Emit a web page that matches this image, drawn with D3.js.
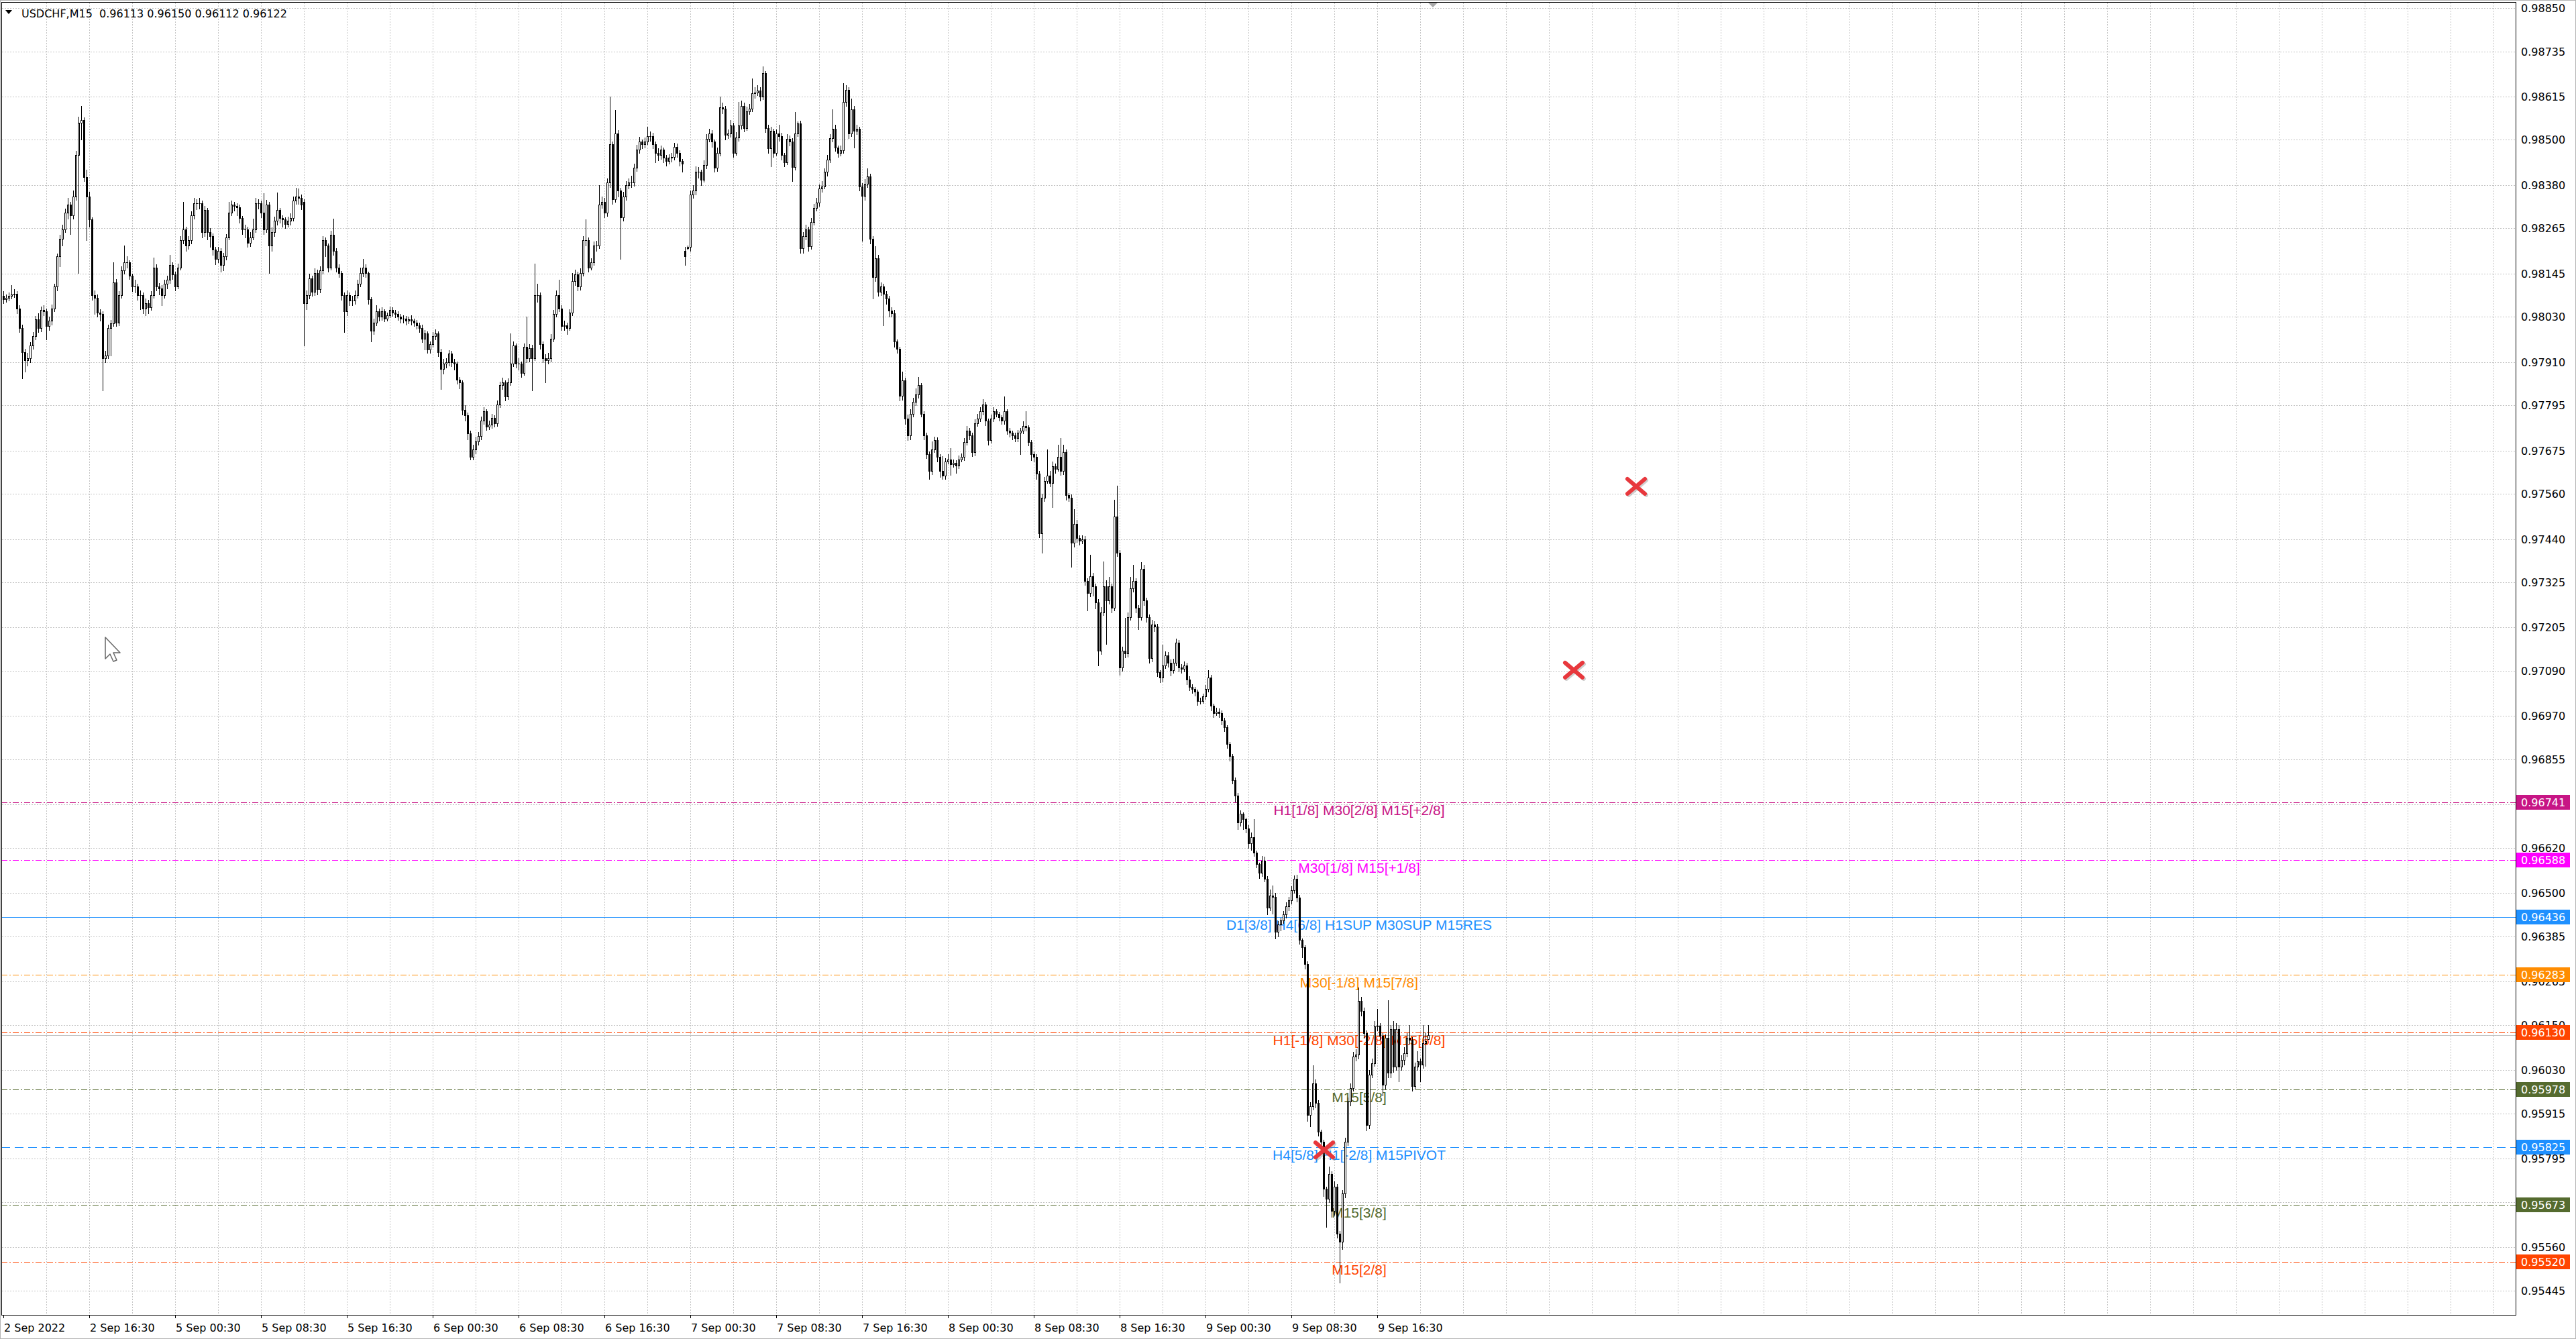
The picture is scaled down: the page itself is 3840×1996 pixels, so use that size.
<!DOCTYPE html>
<html><head><meta charset="utf-8">
<script src="https://cdn.jsdelivr.net/npm/d3@7"></script>
<style>html,body{margin:0;padding:0;background:#fff;overflow:hidden}svg{display:block}</style>
</head><body>
<svg id="chart" width="3840" height="1996"></svg>
<script>
// ---------------- DATA ----------------
const symbolTitle = "USDCHF,M15";
const lastQuote = ["0.96113", "0.96150", "0.96112", "0.96122"];

const opens = [
.98085,.98077,.98081,.98085,.98090,.98092,.98052,.98001,.97936,.97914,.97921,.97954,.97979,.98023,.98001,.98048,
.98045,.98005,.98019,.98052,.98110,.98190,.98237,.98263,.98306,.98328,.98299,.98350,.98459,.98546,.98553,.98401,
.98350,.98288,.98088,.98081,.98041,.98037,.97921,.97928,.98001,.98012,.98121,.98015,.98088,.98154,.98175,.98175,
.98139,.98110,.98110,.98088,.98088,.98052,.98066,.98055,.98088,.98161,.98110,.98106,.98088,.98117,.98128,.98168,
.98143,.98110,.98161,.98234,.98263,.98219,.98234,.98299,.98332,.98332,.98332,.98255,.98314,.98255,.98245,.98208,
.98183,.98205,.98168,.98190,.98241,.98306,.98328,.98325,.98321,.98292,.98263,.98263,.98226,.98241,.98263,.98332,
.98332,.98306,.98263,.98328,.98219,.98255,.98285,.98314,.98292,.98288,.98277,.98285,.98292,.98339,.98350,.98346,
.98335,.98066,.98088,.98132,.98096,.98146,.98103,.98154,.98234,.98219,.98161,.98248,.98205,.98161,.98146,.98088,
.98045,.98088,.98074,.98074,.98088,.98117,.98146,.98161,.98146,.98077,.97994,.98015,.98045,.98030,.98045,.98026,
.98034,.98048,.98041,.98037,.98030,.98026,.98026,.98019,.98023,.98019,.98015,.98008,.98001,.97972,.97986,.97943,
.97957,.97979,.97986,.97936,.97892,.97906,.97910,.97932,.97910,.97906,.97863,.97856,.97783,.97768,.97721,.97659,
.97677,.97699,.97714,.97754,.97779,.97739,.97743,.97761,.97747,.97797,.97848,.97856,.97819,.97856,.97906,.97954,
.97906,.97906,.97881,.97950,.97921,.97947,.97921,.98088,.98088,.97957,.97921,.97914,.97921,.97972,.98037,.98088,
.98052,.98005,.98008,.98001,.98041,.98125,.98143,.98110,.98146,.98234,.98234,.98161,.98175,.98219,.98219,.98328,
.98335,.98306,.98386,.98488,.98343,.98517,.98365,.98295,.98350,.98379,.98386,.98386,.98426,.98474,.98495,.98488,
.98495,.98510,.98510,.98488,.98466,.98459,.98474,.98452,.98444,.98452,.98455,.98481,.98466,.98444,.98205,.98213,
.98215,.98354,.98365,.98415,.98415,.98394,.98434,.98503,.98517,.98495,.98426,.98466,.98586,.98583,.98513,.98517,
.98539,.98466,.98506,.98539,.98590,.98532,.98575,.98583,.98623,.98626,.98630,.98615,.98677,.98532,.98477,.98524,
.98466,.98517,.98510,.98459,.98441,.98503,.98495,.98428,.98517,.98543,.98212,.98244,.98263,.98218,.98282,.98320,
.98333,.98371,.98377,.98415,.98447,.98504,.98530,.98479,.98466,.98473,.98600,.98632,.98517,.98581,.98524,.98530,
.98377,.98352,.98384,.98403,.98237,.98136,.98186,.98097,.98110,.98091,.98078,.98047,.98040,.97964,.97945,.97821,
.97862,.97760,.97716,.97773,.97805,.97824,.97849,.97773,.97716,.97665,.97620,.97678,.97703,.97658,.97620,.97608,
.97646,.97652,.97639,.97643,.97636,.97652,.97658,.97697,.97728,.97716,.97671,.97748,.97760,.97779,.97798,.97754,
.97703,.97760,.97779,.97773,.97764,.97754,.97779,.97728,.97722,.97716,.97709,.97722,.97728,.97741,.97737,.97697,
.97665,.97658,.97614,.97455,.97550,.97595,.97608,.97589,.97633,.97627,.97658,.97620,.97671,.97557,.97550,.97430,
.97480,.97442,.97436,.97440,.97328,.97296,.97341,.97315,.97271,.97143,.97245,.97315,.97277,.97315,.97258,.97500,
.97404,.97099,.97143,.97137,.97232,.97309,.97328,.97258,.97232,.97360,.97277,.97232,.97124,.97213,.97207,.97086,
.97073,.97105,.97131,.97112,.97092,.97112,.97165,.97099,.97096,.97105,.97067,.97048,.97042,.97035,.97010,.97010,
.97022,.97042,.97073,.96997,.96978,.96982,.96978,.96959,.96940,.96895,.96864,.96800,.96758,.96687,.96711,.96696,
.96672,.96633,.96649,.96607,.96577,.96553,.96586,.96538,.96461,.96494,.96490,.96398,.96417,.96428,.96443,.96464,
.96480,.96508,.96538,.96488,.96375,.96357,.96312,.95910,.95934,.95995,.95943,.95866,.95839,.95714,.95688,.95754,
.95656,.95720,.95595,.95575,.95702,.95839,.95946,.95982,.96066,.96071,.96214,.96187,.96128,.95884,.96018,.96048,
.96146,.96148,.96121,.95991,.96116,.96023,.96139,.96039,.96139,.96039,.96057,.96075,.96116,.96111,.95987,.96039,
.96053,.96045,.96102,.96113];

const highs = [
.98098,.98090,.98095,.98114,.98104,.98098,.98060,.98010,.97945,.97935,.97962,.97990,.98032,.98040,.98058,.98060,
.98052,.98030,.98062,.98118,.98198,.98248,.98275,.98318,.98345,.98335,.98365,.98470,.98561,.98590,.98560,.98420,
.98362,.98295,.98100,.98090,.98050,.98045,.97940,.98010,.98022,.98175,.98130,.98098,.98165,.98220,.98190,.98180,
.98145,.98128,.98118,.98100,.98095,.98078,.98075,.98098,.98187,.98170,.98120,.98115,.98128,.98140,.98194,.98175,
.98150,.98172,.98245,.98335,.98270,.98245,.98310,.98345,.98342,.98345,.98338,.98325,.98320,.98265,.98252,.98215,
.98215,.98212,.98200,.98250,.98335,.98338,.98335,.98332,.98328,.98298,.98275,.98270,.98255,.98290,.98345,.98342,
.98338,.98359,.98340,.98335,.98268,.98296,.98360,.98320,.98300,.98295,.98296,.98305,.98350,.98372,.98370,.98355,
.98342,.98100,.98145,.98140,.98158,.98155,.98165,.98245,.98240,.98225,.98258,.98290,.98212,.98170,.98152,.98095,
.98100,.98095,.98085,.98100,.98128,.98160,.98183,.98170,.98150,.98082,.98025,.98060,.98052,.98055,.98050,.98042,
.98058,.98055,.98048,.98045,.98038,.98035,.98032,.98030,.98035,.98026,.98022,.98015,.98010,.97995,.97992,.97965,
.97990,.97996,.97992,.97945,.97918,.97920,.97942,.97940,.97918,.97912,.97870,.97862,.97795,.97775,.97728,.97690,
.97712,.97725,.97765,.97790,.97785,.97755,.97772,.97768,.97808,.97858,.97868,.97862,.97866,.97986,.97965,.97960,
.97920,.97912,.97960,.98030,.97958,.97955,.98172,.98117,.98095,.97965,.97930,.97935,.97985,.98048,.98100,.98128,
.98060,.98020,.98015,.98050,.98146,.98155,.98150,.98158,.98245,.98288,.98240,.98185,.98230,.98232,.98379,.98350,
.98345,.98398,.98615,.98495,.98579,.98525,.98372,.98362,.98390,.98398,.98405,.98437,.98486,.98508,.98500,.98506,
.98535,.98522,.98518,.98495,.98478,.98485,.98480,.98460,.98462,.98466,.98492,.98490,.98472,.98450,.98215,.98220,
.98365,.98380,.98430,.98428,.98420,.98445,.98515,.98530,.98525,.98500,.98480,.98615,.98598,.98590,.98528,.98552,
.98545,.98520,.98601,.98605,.98598,.98588,.98595,.98663,.98640,.98645,.98640,.98695,.98682,.98540,.98535,.98530,
.98528,.98540,.98518,.98465,.98515,.98512,.98505,.98574,.98549,.98550,.98255,.98275,.98270,.98292,.98330,.98345,
.98382,.98390,.98425,.98460,.98515,.98581,.98540,.98485,.98485,.98651,.98645,.98640,.98610,.98590,.98540,.98535,
.98385,.98395,.98425,.98410,.98245,.98218,.98195,.98122,.98118,.98098,.98085,.98055,.98048,.97970,.97950,.97885,
.97868,.97770,.97785,.97815,.97840,.97870,.97855,.97780,.97722,.97672,.97700,.97712,.97710,.97665,.97660,.97655,
.97665,.97682,.97652,.97650,.97662,.97668,.97708,.97740,.97735,.97722,.97758,.97772,.97790,.97812,.97805,.97760,
.97770,.97790,.97785,.97778,.97768,.97818,.97785,.97735,.97728,.97722,.97730,.97735,.97752,.97779,.97742,.97703,
.97672,.97665,.97620,.97560,.97605,.97678,.97620,.97645,.97640,.97690,.97709,.97690,.97678,.97562,.97558,.97520,
.97490,.97450,.97450,.97448,.97335,.97398,.97350,.97322,.97280,.97260,.97380,.97330,.97340,.97322,.97544,.97582,
.97410,.97155,.97230,.97245,.97340,.97372,.97335,.97265,.97378,.97372,.97285,.97240,.97225,.97222,.97215,.97092,
.97160,.97142,.97140,.97120,.97122,.97175,.97172,.97108,.97115,.97112,.97075,.97055,.97048,.97040,.97018,.97030,
.97052,.97092,.97080,.97003,.96992,.96990,.96985,.96965,.96945,.96902,.96870,.96806,.96765,.96720,.96715,.96700,
.96680,.96660,.96696,.96612,.96580,.96598,.96597,.96545,.96510,.96520,.96500,.96425,.96435,.96452,.96475,.96490,
.96518,.96547,.96548,.96495,.96380,.96362,.96318,.95945,.96042,.96005,.95950,.95872,.95845,.95720,.95774,.95762,
.95735,.95728,.95602,.95712,.95850,.95958,.95995,.96078,.96085,.96250,.96225,.96195,.96135,.96030,.96060,.96160,
.96193,.96155,.96128,.96125,.96215,.96150,.96160,.96155,.96150,.96070,.96090,.96128,.96150,.96118,.96050,.96080,
.96060,.96150,.96130,.96150];

const lows = [
.98066,.98070,.98074,.98078,.98082,.98040,.97990,.97866,.97885,.97900,.97910,.97945,.97970,.97990,.97992,.98035,
.97970,.97995,.98010,.98045,.98100,.98165,.98220,.98255,.98290,.98250,.98290,.98340,.98146,.98500,.98390,.98234,
.98270,.98075,.98037,.98030,.98020,.97834,.97910,.97920,.97928,.98005,.98005,.98008,.98080,.98145,.98160,.98130,
.98098,.98095,.98075,.98050,.98040,.98035,.98040,.98048,.98080,.98100,.98090,.98060,.98080,.98105,.98120,.98130,
.98100,.98105,.98155,.98225,.98205,.98210,.98225,.98290,.98315,.98318,.98240,.98245,.98235,.98215,.98195,.98170,
.98175,.98150,.98154,.98182,.98235,.98300,.98312,.98300,.98280,.98250,.98240,.98215,.98218,.98235,.98255,.98318,
.98295,.98250,.98255,.98146,.98205,.98245,.98275,.98280,.98270,.98265,.98270,.98275,.98285,.98330,.98330,.98315,
.97954,.98050,.98078,.98085,.98088,.98090,.98095,.98145,.98190,.98150,.98155,.98195,.98150,.98135,.98075,.97990,
.98035,.98060,.98060,.98065,.98080,.98110,.98138,.98135,.98065,.97965,.97985,.98008,.98020,.98022,.98018,.98020,
.98028,.98032,.98028,.98022,.98015,.98015,.98010,.98012,.98010,.98005,.97998,.97990,.97962,.97943,.97935,.97935,
.97950,.97970,.97925,.97838,.97880,.97895,.97900,.97898,.97890,.97852,.97840,.97770,.97755,.97705,.97652,.97652,
.97668,.97690,.97705,.97745,.97730,.97732,.97735,.97738,.97740,.97790,.97838,.97808,.97812,.97848,.97898,.97895,
.97890,.97870,.97875,.97910,.97912,.97834,.97915,.98070,.97945,.97910,.97856,.97905,.97912,.97965,.98030,.98045,
.97995,.97995,.97985,.97995,.98035,.98115,.98100,.98102,.98140,.98220,.98150,.98155,.98168,.98205,.98212,.98320,
.98295,.98298,.98375,.98330,.98335,.98350,.98183,.98285,.98340,.98370,.98375,.98378,.98418,.98465,.98478,.98480,
.98488,.98498,.98478,.98440,.98445,.98450,.98440,.98432,.98436,.98442,.98448,.98455,.98432,.98415,.98168,.98208,
.98205,.98345,.98355,.98400,.98380,.98388,.98425,.98495,.98482,.98415,.98418,.98458,.98570,.98500,.98505,.98508,
.98455,.98460,.98498,.98530,.98522,.98525,.98568,.98575,.98612,.98618,.98605,.98608,.98520,.98465,.98430,.98455,
.98460,.98498,.98448,.98430,.98435,.98485,.98390,.98420,.98510,.98200,.98200,.98235,.98205,.98210,.98275,.98312,
.98325,.98362,.98370,.98405,.98440,.98495,.98470,.98455,.98458,.98465,.98590,.98505,.98510,.98479,.98515,.98365,
.98231,.98340,.98375,.98225,.98078,.98125,.98085,.98088,.98008,.98065,.98030,.98030,.97950,.97935,.97808,.97810,
.97745,.97702,.97705,.97765,.97795,.97815,.97765,.97705,.97655,.97600,.97612,.97670,.97645,.97605,.97600,.97600,
.97640,.97610,.97632,.97615,.97628,.97645,.97650,.97690,.97705,.97660,.97662,.97740,.97752,.97770,.97742,.97690,
.97695,.97752,.97765,.97755,.97745,.97745,.97718,.97712,.97705,.97700,.97700,.97665,.97720,.97728,.97688,.97650,
.97645,.97600,.97445,.97404,.97540,.97588,.97580,.97525,.97615,.97620,.97610,.97612,.97545,.97540,.97366,.97420,
.97432,.97425,.97428,.97318,.97251,.97288,.97290,.97255,.97105,.97135,.97238,.97162,.97268,.97245,.97250,.97395,
.97080,.97090,.97125,.97128,.97225,.97300,.97245,.97200,.97225,.97265,.97220,.97112,.97115,.97195,.97075,.97060,
.97062,.97098,.97100,.97078,.97085,.97105,.97088,.97085,.97088,.97055,.97038,.97032,.97025,.97000,.97002,.97005,
.97015,.97035,.96985,.96968,.96972,.96968,.96948,.96930,.96885,.96852,.96790,.96742,.96669,.96678,.96670,.96660,
.96620,.96615,.96598,.96568,.96540,.96545,.96530,.96443,.96455,.96445,.96380,.96385,.96400,.96420,.96435,.96455,
.96472,.96500,.96478,.96365,.96330,.96300,.95895,.95880,.95925,.95930,.95855,.95825,.95695,.95613,.95680,.95640,
.95645,.95585,.95465,.95554,.95692,.95830,.95935,.95975,.96055,.96060,.96175,.96115,.95870,.95875,.96010,.96040,
.96135,.96110,.95962,.95980,.96010,.96010,.96025,.96030,.96000,.96030,.96045,.96065,.96100,.95975,.95980,.96030,
.96000,.96035,.96040,.96112];

const closes = [
.98077,.98081,.98085,.98090,.98092,.98052,.98001,.97936,.97914,.97921,.97954,.97979,.98023,.98001,.98048,.98045,
.98005,.98019,.98052,.98110,.98190,.98237,.98263,.98306,.98328,.98299,.98350,.98459,.98546,.98553,.98401,.98350,
.98288,.98088,.98081,.98041,.98037,.97921,.97928,.98001,.98012,.98121,.98015,.98088,.98154,.98175,.98175,.98139,
.98110,.98110,.98088,.98088,.98052,.98066,.98055,.98088,.98161,.98110,.98106,.98088,.98117,.98128,.98168,.98143,
.98110,.98161,.98234,.98263,.98219,.98234,.98299,.98332,.98332,.98332,.98255,.98314,.98255,.98245,.98208,.98183,
.98205,.98168,.98190,.98241,.98306,.98328,.98325,.98321,.98292,.98263,.98263,.98226,.98241,.98263,.98332,.98332,
.98306,.98263,.98328,.98219,.98255,.98285,.98314,.98292,.98288,.98277,.98285,.98292,.98339,.98350,.98346,.98328,
.98066,.98088,.98132,.98096,.98146,.98103,.98154,.98234,.98219,.98161,.98248,.98205,.98161,.98146,.98088,.98045,
.98088,.98074,.98074,.98088,.98117,.98146,.98161,.98146,.98077,.97994,.98015,.98045,.98030,.98045,.98026,.98034,
.98048,.98041,.98037,.98030,.98026,.98026,.98019,.98023,.98019,.98015,.98008,.98001,.97972,.97986,.97943,.97957,
.97979,.97986,.97936,.97892,.97906,.97910,.97932,.97910,.97906,.97863,.97856,.97783,.97768,.97721,.97659,.97677,
.97699,.97714,.97754,.97779,.97739,.97743,.97761,.97747,.97797,.97848,.97856,.97819,.97856,.97906,.97954,.97906,
.97906,.97881,.97950,.97921,.97947,.97921,.98088,.98088,.97957,.97921,.97914,.97921,.97972,.98037,.98088,.98052,
.98005,.98008,.98001,.98041,.98125,.98143,.98110,.98146,.98234,.98234,.98161,.98175,.98219,.98219,.98328,.98335,
.98306,.98386,.98488,.98343,.98517,.98365,.98295,.98350,.98379,.98386,.98386,.98426,.98474,.98495,.98488,.98495,
.98510,.98510,.98488,.98466,.98459,.98474,.98452,.98444,.98452,.98455,.98481,.98466,.98444,.98437,.98190,.98215,
.98354,.98365,.98415,.98415,.98394,.98434,.98503,.98517,.98495,.98426,.98466,.98586,.98583,.98513,.98517,.98539,
.98466,.98506,.98539,.98590,.98532,.98575,.98583,.98623,.98626,.98630,.98615,.98677,.98532,.98477,.98524,.98466,
.98517,.98510,.98459,.98441,.98503,.98495,.98428,.98517,.98543,.98212,.98244,.98263,.98218,.98282,.98320,.98333,
.98371,.98377,.98415,.98447,.98504,.98530,.98479,.98466,.98473,.98600,.98632,.98517,.98581,.98524,.98530,.98377,
.98352,.98384,.98403,.98237,.98136,.98186,.98097,.98110,.98091,.98078,.98047,.98040,.97964,.97945,.97821,.97862,
.97760,.97716,.97773,.97805,.97824,.97849,.97773,.97716,.97665,.97620,.97678,.97703,.97658,.97620,.97608,.97646,
.97652,.97639,.97643,.97636,.97652,.97658,.97697,.97728,.97716,.97671,.97748,.97760,.97779,.97798,.97754,.97703,
.97760,.97779,.97773,.97764,.97754,.97779,.97728,.97722,.97716,.97709,.97722,.97728,.97741,.97737,.97697,.97665,
.97658,.97614,.97455,.97550,.97595,.97608,.97589,.97633,.97627,.97658,.97620,.97671,.97557,.97550,.97430,.97480,
.97442,.97436,.97440,.97328,.97296,.97341,.97315,.97271,.97143,.97245,.97315,.97277,.97315,.97258,.97500,.97404,
.97099,.97143,.97137,.97232,.97309,.97328,.97258,.97232,.97360,.97277,.97232,.97124,.97213,.97207,.97086,.97073,
.97105,.97131,.97112,.97092,.97112,.97165,.97099,.97096,.97105,.97067,.97048,.97042,.97035,.97010,.97010,.97022,
.97042,.97073,.96997,.96978,.96982,.96978,.96959,.96940,.96895,.96864,.96800,.96758,.96687,.96711,.96696,.96672,
.96633,.96649,.96607,.96577,.96553,.96586,.96538,.96461,.96494,.96490,.96398,.96417,.96428,.96443,.96464,.96480,
.96508,.96538,.96488,.96375,.96357,.96312,.95910,.95934,.95995,.95943,.95866,.95839,.95714,.95688,.95754,.95656,
.95720,.95595,.95575,.95702,.95839,.95946,.95982,.96066,.96071,.96214,.96187,.96128,.95884,.96018,.96048,.96146,
.96148,.96121,.95991,.96116,.96023,.96139,.96039,.96139,.96039,.96057,.96075,.96116,.96111,.95987,.96039,.96053,
.96045,.96102,.96107,.96122];

const timeLabels = ["2 Sep 2022","2 Sep 16:30","5 Sep 00:30","5 Sep 08:30","5 Sep 16:30","6 Sep 00:30",
  "6 Sep 08:30","6 Sep 16:30","7 Sep 00:30","7 Sep 08:30","7 Sep 16:30","8 Sep 00:30","8 Sep 08:30",
  "8 Sep 16:30","9 Sep 00:30","9 Sep 08:30","9 Sep 16:30"];
const timeLabelBars = [0,32,64,96,128,160,192,224,256,288,320,352,384,416,448,480,512];

const priceTicks = ["0.98850","0.98735","0.98615","0.98500","0.98380","0.98265","0.98145","0.98030",
  "0.97910","0.97795","0.97675","0.97560","0.97440","0.97325","0.97205","0.97090","0.96970","0.96855",
  "0.96735","0.96620","0.96500","0.96385","0.96265","0.96150","0.96030","0.95915","0.95795","0.95680",
  "0.95560","0.95445"];

const levelPrices = [0.96741, 0.96588, 0.96436, 0.96283, 0.96130, 0.95978, 0.95825, 0.95673, 0.95520];
const levelTexts = ["H1[1/8] M30[2/8] M15[+2/8]", "M30[1/8] M15[+1/8]", "D1[3/8] H4[6/8] H1SUP M30SUP M15RES",
  "M30[-1/8] M15[7/8]", "H1[-1/8] M30[-2/8] M15[6/8]", "M15[5/8]", "H4[5/8] H1[-2/8] M15PIVOT",
  "M15[3/8]", "M15[2/8]"];
const levelLabelBar = 505.25;
const bidPrice = 0.96122;

const markerBars = [608.5, 585.25, 492.25];
const markerPrices = [0.97580, 0.97092, 0.95818];

// ---------------- STYLE ----------------
const levelStyle = [
  {color:"#C71585", dash:"9,3,2,3"},
  {color:"#FF00FF", dash:"9,3,2,3"},
  {color:"#1E90FF", dash:null},
  {color:"#FF8C00", dash:"9,3,2,3"},
  {color:"#FF4500", dash:"9,3,2,3"},
  {color:"#556B2F", dash:"9,3,2,3"},
  {color:"#1E90FF", dash:"13,7"},
  {color:"#556B2F", dash:"9,3,2,3"},
  {color:"#FF4500", dash:"9,3,2,3"}
];
const plot = {left:2, top:3, right:3750, bottom:1960};
const axisFont = "'DejaVu Sans', Verdana, sans-serif";

// ---------------- DRAW ----------------
const svg = d3.select("#chart");
const x = d3.scaleLinear().domain([0, 531]).range([5, 2129]);
const y = d3.scaleLinear().domain([0.95380, 0.98866]).range([plot.bottom, plot.top]);
const px = v => Math.round(v) + 0.5;

svg.append("rect").attr("x",0).attr("y",0).attr("width",3840).attr("height",1996).attr("fill","#fff");
svg.append("rect").attr("x",0.5).attr("y",0.5).attr("width",3839).attr("height",1995)
  .attr("fill","none").attr("stroke","#b4b4b4");

// grid
const grid = svg.append("g").attr("stroke","#c4c4c4").attr("stroke-dasharray","2,2").attr("shape-rendering","crispEdges");
const vGridBars = d3.range(16, 940, 16).filter(b => x(b) < plot.right - 2);
grid.selectAll("line.v").data(vGridBars).join("line")
  .attr("x1", b => px(x(b))).attr("x2", b => px(x(b)))
  .attr("y1", plot.top + 1).attr("y2", plot.bottom);
grid.selectAll("line.h").data(priceTicks).join("line")
  .attr("x1", plot.left + 1).attr("x2", plot.right)
  .attr("y1", t => px(y(+t))).attr("y2", t => px(y(+t)));

// bid line
svg.append("line").attr("x1", plot.left).attr("x2", plot.right)
  .attr("y1", px(y(bidPrice))).attr("y2", px(y(bidPrice)))
  .attr("stroke","#c0c0c0").attr("shape-rendering","crispEdges");

// level lines
const levels = levelPrices.map((p,i)=>({p, text:levelTexts[i], ...levelStyle[i]}));
svg.append("g").attr("shape-rendering","crispEdges").selectAll("line").data(levels).join("line")
  .attr("x1", plot.left).attr("x2", plot.right)
  .attr("y1", d => px(y(d.p))).attr("y2", d => px(y(d.p)))
  .attr("stroke", d => d.color).attr("stroke-width",1)
  .attr("stroke-dasharray", d => d.dash);

// level texts (behind candles)
svg.append("g").selectAll("text").data(levels).join("text")
  .attr("x", x(levelLabelBar)).attr("y", d => y(d.p) + 19)
  .attr("text-anchor","middle")
  .attr("font-family","'Liberation Sans', Arial, sans-serif").attr("font-size",21)
  .attr("fill", d => d.color).text(d => d.text);

// candles
const bars = closes.map((c,i)=>({i, o:opens[i], h:highs[i], l:lows[i], c}));
const cg = svg.append("g").attr("shape-rendering","crispEdges");
cg.selectAll("rect.wick").data(bars).join("rect").attr("class","wick")
  .attr("x", d => Math.round(x(d.i))).attr("width",1)
  .attr("y", d => Math.round(y(d.h)))
  .attr("height", d => Math.max(1, Math.round(y(d.l)) - Math.round(y(d.h)) + 1))
  .attr("fill","#000");
cg.selectAll("rect.body").data(bars).join("rect").attr("class","body")
  .each(function(d){
    const cx = Math.round(x(d.i));
    const yo = Math.round(y(d.o)), yc = Math.round(y(d.c));
    const top = Math.min(yo,yc), bot = Math.max(yo,yc);
    const s = d3.select(this);
    if (bot - top < 1) {
      s.attr("x",cx-1).attr("y",top).attr("width",3).attr("height",1).attr("fill","#000");
    } else if (d.c < d.o) {
      s.attr("x",cx-1).attr("y",top).attr("width",3).attr("height",bot-top+1).attr("fill","#000");
    } else {
      s.attr("x",cx-0.5).attr("y",top+0.5).attr("width",2).attr("height",bot-top)
       .attr("fill","#fff").attr("stroke","#000").attr("stroke-width",1);
    }
  });

// red cross markers
const mg = svg.append("g");
const markers = markerBars.map((b,i)=>({b, p:markerPrices[i]}));
markers.forEach(m => {
  const mx = x(m.b), my = y(m.p);
  const g = mg.append("g").attr("transform",`translate(${mx},${my})`);
  [[2,2,"rgba(120,120,120,0.35)"],[0,0,"#E8383D"]].forEach(([dx,dy,col])=>{
    g.append("line").attr("x1",-13+dx).attr("y1",-11+dy).attr("x2",13+dx).attr("y2",11+dy)
      .attr("stroke",col).attr("stroke-width",6).attr("stroke-linecap","round");
    g.append("line").attr("x1",13+dx).attr("y1",-11+dy).attr("x2",-13+dx).attr("y2",11+dy)
      .attr("stroke",col).attr("stroke-width",6).attr("stroke-linecap","round");
  });
});

// frame
const fr = svg.append("g").attr("shape-rendering","crispEdges").attr("stroke","#000").attr("fill","none");
fr.append("line").attr("x1",plot.left+0.5).attr("x2",plot.left+0.5).attr("y1",plot.top).attr("y2",plot.bottom+1);
fr.append("line").attr("x1",plot.left).attr("x2",plot.right+1).attr("y1",plot.top+0.5).attr("y2",plot.top+0.5);
fr.append("line").attr("x1",plot.right+0.5).attr("x2",plot.right+0.5).attr("y1",plot.top).attr("y2",plot.bottom+1);
fr.append("line").attr("x1",plot.left).attr("x2",plot.right+1).attr("y1",plot.bottom+0.5).attr("y2",plot.bottom+0.5);

// time axis
const ta = svg.append("g");
ta.selectAll("line").data(timeLabelBars).join("line")
  .attr("x1", b => px(x(b))).attr("x2", b => px(x(b)))
  .attr("y1", plot.bottom).attr("y2", plot.bottom + 5)
  .attr("stroke","#000").attr("shape-rendering","crispEdges");
ta.selectAll("text").data(timeLabelBars).join("text")
  .attr("x", b => x(b) + 1).attr("y", 1985)
  .attr("font-family", axisFont).attr("font-size",16).attr("fill","#000")
  .text((b,i) => timeLabels[i]);

// price axis
const pa = svg.append("g");
pa.selectAll("text").data(priceTicks).join("text")
  .attr("x", plot.right + 8).attr("y", t => y(+t) + 6)
  .attr("font-family", axisFont).attr("font-size",16).attr("fill","#000")
  .text(t => t);

// level price boxes
const lb = svg.append("g");
levels.forEach(d => {
  const yy = Math.round(y(d.p));
  lb.append("rect").attr("x", plot.right + 1).attr("y", yy - 11).attr("width", 80).attr("height", 22)
    .attr("fill", d.color).attr("shape-rendering","crispEdges");
  lb.append("text").attr("x", plot.right + 8).attr("y", yy + 6)
    .attr("font-family", axisFont).attr("font-size",16).attr("fill","#fff")
    .text(d.p.toFixed(5));
});

// header
svg.append("path").attr("d","M8,15 L18,15 L13,21 Z").attr("fill","#000");
svg.append("text").attr("x",32).attr("y",26).attr("xml:space","preserve").style("white-space","pre")
  .attr("font-family", axisFont).attr("font-size",16).attr("fill","#000")
  .text(symbolTitle + "  " + lastQuote.join(" "));

// chart shift marker
const shiftX = x(531) + 7;
svg.append("path").attr("d",`M${shiftX-7},${plot.top+1} L${shiftX+7},${plot.top+1} L${shiftX},${plot.top+8} Z`).attr("fill","#a8a8a8");

// mouse cursor
svg.append("path").attr("transform","translate(157,950)")
  .attr("d","M0,0 L0,32 L7,25 L12,36 L17,34 L12,23 L22,23 Z")
  .attr("fill","#fff").attr("stroke","#666").attr("stroke-width",1.5).attr("stroke-linejoin","round");
</script>
</body></html>
